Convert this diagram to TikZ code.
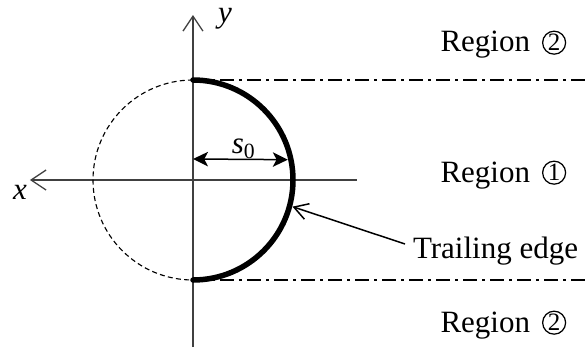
\documentclass[tikz,border=0pt]{standalone}
\usepackage{fontspec}
\setmainfont{Liberation Serif}
\usetikzlibrary{arrows.meta,positioning}

\begin{document}
\begin{tikzpicture}[
    x=0.4pt, y=0.4pt,
    font=\fontsize{12.4}{15}\selectfont,
    axis/.style={line width=0.5pt, black!75, -{Straight Barb[length=6pt,width=8pt]}},
    edge/.style={line width=2.2pt, line cap=round},
    ghost/.style={line width=0.45pt, dash pattern=on 2pt off 1.3pt},
    bound/.style={line width=0.6pt, dash pattern=on 5.6pt off 2pt on 1.2pt off 2pt},
    dim/.style={line width=0.6pt, {Stealth[length=6pt,width=5.8pt,inset=1.5pt]}-{Stealth[length=6pt,width=5.8pt,inset=1.5pt]}},
    ptr/.style={line width=0.6pt, -{Straight Barb[length=5.5pt,width=6.5pt]}},
    lbl/.style={anchor=base west, inner sep=0pt},
    num/.style={draw, circle, line width=0.5pt, inner sep=0pt, minimum size=9.2pt, font=\fontsize{10}{12}\selectfont}
]
\useasboundingbox (-193,-174) rectangle (394,180);

% axes
\coordinate (o) at (0,0);
\coordinate (xr) at (164,0);
\coordinate (xl) at (-163,0);
\coordinate (yb) at (0,-167);
\coordinate (yt) at (0,165);
\draw[axis] (xr) -- (xl);
\draw[axis] (yb) -- (yt);
\node (xlab) at (-173,-12) {\textit{x}};
\node (ylab) at (32,161) {\textit{y}};

% circle and trailing edge
\coordinate (top) at (0,100);
\coordinate (bot) at (0,-100);
\draw[ghost] (top) arc[start angle=90, end angle=270, radius=40pt];
\draw[edge] (top) arc[start angle=90, end angle=-90, radius=40pt];

% region boundaries
\coordinate (topr) at (394,100);
\coordinate (botr) at (394,-100);
\draw[bound] (top) -- (topr);
\draw[bound] (bot) -- (botr);

% s0
\coordinate (s0l) at (0,21);
\coordinate (s0r) at (12.1:97);
\draw[dim] (s0l) -- (s0r);
\node (s0lab) at (51,31) {\textit{s}\textsubscript{0}};

% labels
\node[lbl] (r2t) at (247,128) {Region};
\node[num, anchor=south west] (n2t) at ([xshift=6pt,yshift=0.3pt]r2t.base east) {2};
\node[lbl] (r1) at (247,-2) {Region};
\node[num, anchor=south west] (n1) at ([xshift=6pt,yshift=0.3pt]r1.base east) {1};
\node[lbl] (r2b) at (247,-152) {Region};
\node[num, anchor=south west] (n2b) at ([xshift=6pt,yshift=0.3pt]r2b.base east) {2};

\coordinate (tip) at (-15:103);
\node[lbl, inner sep=3pt] (te) at (212,-78) {Trailing edge};
\draw[ptr] ([yshift=5.6pt]te.base west) -- (tip);
\end{tikzpicture}
\end{document}
